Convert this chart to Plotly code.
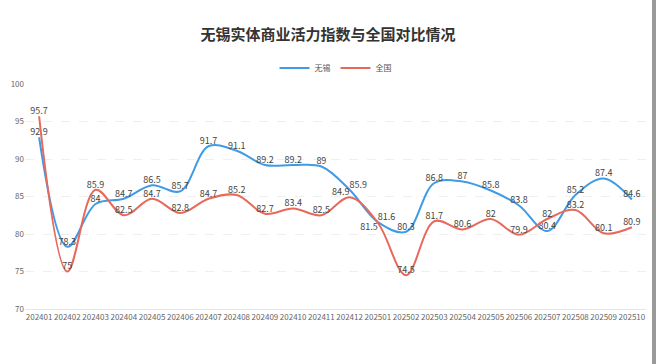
import plotly.graph_objects as go

months = ["202401","202402","202403","202404","202405","202406","202407","202408","202409","202410","202411","202412",
          "202501","202502","202503","202504","202505","202506","202507","202508","202509","202510"]
wuxi = [92.9,78.3,84,84.7,86.5,85.7,91.7,91.1,89.2,89.2,89,85.9,81.6,80.3,86.8,87,85.8,83.8,80.4,85.2,87.4,84.6]
quanguo = [95.7,75,85.9,82.5,84.7,82.8,84.7,85.2,82.7,83.4,82.5,84.9,81.5,74.5,81.7,80.6,82,79.9,82,83.2,80.1,80.9]

FONT = "Noto Sans CJK SC, Noto Sans, sans-serif"
BLUE = "#3f9be6"
RED = "#e8685a"

blue_pos = ["top center"] * len(months)
blue_pos[11] = "top right"
blue_pos[12] = "top right"
red_pos = ["top center"] * len(months)
red_pos[11] = "top left"
red_pos[12] = "bottom left"

fig = go.Figure()
fig.add_trace(go.Scatter(x=months, y=wuxi, name="无锡", mode="lines+text",
                         line=dict(color=BLUE, width=2, shape="spline", smoothing=1.0),
                         text=[str(v) for v in wuxi], textposition=blue_pos,
                         textfont=dict(size=9, color="#444")))
fig.add_trace(go.Scatter(x=months, y=quanguo, name="全国", mode="lines+text",
                         line=dict(color=RED, width=2, shape="spline", smoothing=1.0),
                         text=[str(v) for v in quanguo], textposition=red_pos,
                         textfont=dict(size=9, color="#444")))

fig.update_layout(
    width=656, height=364,
    margin=dict(l=25, r=10, t=84, b=55),
    paper_bgcolor="white", plot_bgcolor="white",
    font=dict(family=FONT, size=9, color="#555"),
    title=dict(text="<b>无锡实体商业活力指数与全国对比情况</b>", x=0.5, xanchor="center",
               y=1 - 35/364, yanchor="middle", font=dict(size=15, color="#333", family=FONT)),
    legend=dict(orientation="h", x=0.5, xanchor="center", y=(309-68)/225, yanchor="middle",
                font=dict(size=8, color="#555"), itemwidth=30, bgcolor="rgba(0,0,0,0)"),
    showlegend=True,
    xaxis=dict(type="category", showgrid=False, showline=True, linecolor="#e6e6e6", linewidth=1,
               ticks="", tickangle=0, tickfont=dict(size=8, color="#666"), range=[-0.5, len(months)-0.5]),
    yaxis=dict(range=[70, 100], dtick=5, showgrid=True, gridcolor="#efefef", griddash="dash",
               zeroline=False, showline=False, ticks="", tickfont=dict(size=8, color="#666")),
    shapes=[dict(type="rect", xref="paper", yref="paper", x0=(652-25)/621, x1=(657-25)/621,
                 y0=(309-364)/225 - 0.05, y1=(309+0)/225 + 0.05, fillcolor="#9a9a9a", line=dict(width=0), layer="above")],
)

fig.write_html("out.html", config={"displayModeBar": False},
               post_script="document.body.style.margin='0';document.body.style.overflow='hidden';")
